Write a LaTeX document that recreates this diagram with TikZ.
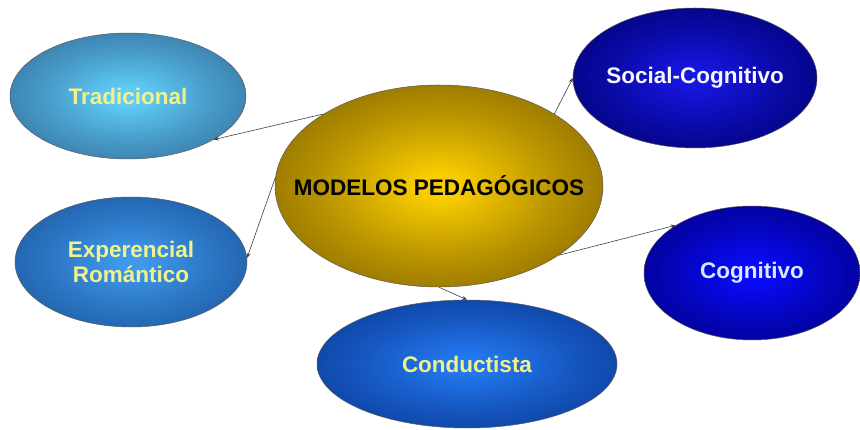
\documentclass[tikz,border=0pt]{standalone}
\usepackage{fontspec}
\setmainfont{Liberation Sans}
\usetikzlibrary{shapes.geometric,arrows.meta}
\definecolor{tradin}{RGB}{95,205,248}
\definecolor{tradout}{RGB}{52,112,158}
\definecolor{expin}{RGB}{62,152,236}
\definecolor{expout}{RGB}{28,88,160}
\definecolor{socin}{RGB}{22,22,225}
\definecolor{socout}{RGB}{0,0,115}
\definecolor{cogin}{RGB}{10,10,250}
\definecolor{cogout}{RGB}{0,0,135}
\definecolor{conin}{RGB}{35,120,240}
\definecolor{conout}{RGB}{10,58,150}
\definecolor{cenin}{RGB}{250,205,0}
\definecolor{cenout}{RGB}{130,100,0}
\colorlet{tradmid}{tradin!45!tradout}
\colorlet{expmid}{expin!45!expout}
\colorlet{socmid}{socin!45!socout}
\colorlet{cogmid}{cogin!45!cogout}
\colorlet{conmid}{conin!45!conout}
\colorlet{cenmid}{cenin!45!cenout}
\definecolor{txtyellow}{RGB}{242,242,140}
\definecolor{txtwhite}{RGB}{245,245,250}
\definecolor{txtblue}{RGB}{215,232,255}
\pgfdeclareradialshading{tradsh}{\pgfpoint{0bp}{0bp}}{color(0bp)=(tradin); color(3bp)=(tradin); color(18bp)=(tradmid); color(33bp)=(tradout); color(50bp)=(tradout)}
\pgfdeclareradialshading{expsh}{\pgfpoint{0bp}{0bp}}{color(0bp)=(expin); color(3bp)=(expin); color(18bp)=(expmid); color(33bp)=(expout); color(50bp)=(expout)}
\pgfdeclareradialshading{socsh}{\pgfpoint{0bp}{0bp}}{color(0bp)=(socin); color(3bp)=(socin); color(18bp)=(socmid); color(33bp)=(socout); color(50bp)=(socout)}
\pgfdeclareradialshading{cogsh}{\pgfpoint{0bp}{0bp}}{color(0bp)=(cogin); color(3bp)=(cogin); color(18bp)=(cogmid); color(33bp)=(cogout); color(50bp)=(cogout)}
\pgfdeclareradialshading{consh}{\pgfpoint{0bp}{0bp}}{color(0bp)=(conin); color(3bp)=(conin); color(18bp)=(conmid); color(33bp)=(conout); color(50bp)=(conout)}
\pgfdeclareradialshading{censh}{\pgfpoint{0bp}{0bp}}{color(0bp)=(cenin); color(3bp)=(cenin); color(18bp)=(cenmid); color(33bp)=(cenout); color(50bp)=(cenout)}
\newcommand{\zw}[1]{\makebox[0pt][c]{#1}}
\tikzset{
  oval/.style={ellipse, inner sep=0pt, draw=black!65, line width=0.5pt,
    font=\fontsize{22.5}{25}\selectfont\bfseries, align=center},
  link/.style={draw=black!75, line width=0.6pt, -{Stealth[length=5pt,width=4pt]}}
}
\begin{document}
\begin{tikzpicture}[x=1pt,y=1pt]
\useasboundingbox[fill=white] (0,0) rectangle (860,429);
\node[oval, shading=tradsh, minimum width=236pt, minimum height=126pt, text=txtyellow] (T) at (128,333) {\zw{Tradicional}};
\node[oval, shading=expsh, minimum width=232pt, minimum height=130pt, text=txtyellow] (E) at (131,167) {\zw{Experencial}\\\zw{Romántico}};
\node[oval, shading=censh, minimum width=328pt, minimum height=202pt, text=black] (M) at (439,243) {\zw{MODELOS PEDAGÓGICOS}};
\node[oval, shading=socsh, minimum width=244pt, minimum height=140pt, text=txtwhite] (S) at (695,351) {\zw{Social-Cognitivo}};
\node[oval, shading=cogsh, minimum width=216pt, minimum height=134pt, text=txtblue] (C) at (752,156) {\zw{Cognitivo}};
\node[oval, shading=consh, minimum width=300pt, minimum height=128pt, text=txtyellow] (K) at (467,65) {\zw{Conductista}};
\draw[link] (M.148.8) -- (T.-27.4);
\draw[link] (M.177) -- (E.2);
\draw[link] (M.32.2) -- (S.180);
\draw[link] (M.-30.7) -- (C.148);
\draw[link] (M.-90) -- (K.90);
\end{tikzpicture}
\end{document}
